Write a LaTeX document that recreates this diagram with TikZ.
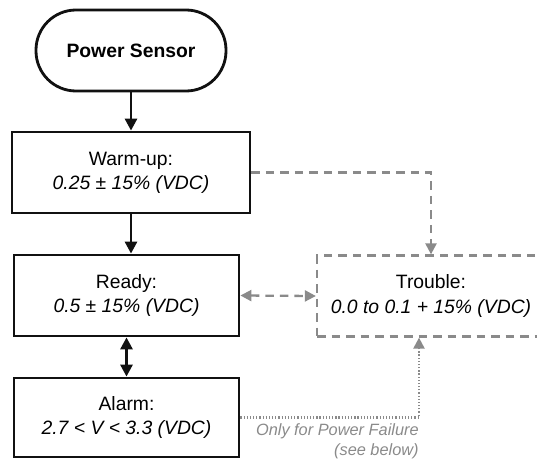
\documentclass[tikz,border=0pt]{standalone}
\usepackage{fontspec}
\setmainfont{Liberation Sans}
\usetikzlibrary{arrows.meta,positioning,calc}
\definecolor{dark}{HTML}{111111}
\definecolor{midgray}{HTML}{8A8A8A}
\tikzset{
  box/.style={draw=dark, line width=1.6pt, align=center, minimum height=1.62cm, inner sep=1mm, font=\fontsize{11}{13.7}\selectfont},
  startbox/.style={box, rounded corners=8mm, minimum width=3.8cm, font=\fontsize{11}{13.7}\selectfont\bfseries},
  statebox/.style={box, minimum width=4.5cm},
  troublebox/.style={box, draw=midgray, line width=1.3pt, dash pattern=on 1.7mm off 1.2mm, minimum width=4.56cm},
  arrow/.style={-{Triangle[length=2.4mm,width=2.4mm]}, line width=1.6pt, draw=dark},
  dasharrow/.style={-{Triangle[length=2.2mm,width=2.2mm]}, line width=1.3pt, draw=midgray, dash pattern=on 1.7mm off 1.2mm},
  dotarrow/.style={-{Triangle[length=2.2mm,width=2.2mm]}, line width=1.3pt, draw=midgray, dash pattern=on 0.7pt off 1.1pt},
  note/.style={text=midgray, align=right, inner sep=0pt, font=\fontsize{9.3}{11.3}\selectfont\itshape}
}
\begin{document}
\begin{tikzpicture}
  \useasboundingbox (0,0) rectangle (10.74,-9.18);
  \clip (0,0) rectangle (10.74,-9.18);
  \node[startbox] (sensor) at (2.62,-1.01) {Power Sensor};
  \node[statebox, minimum width=4.76cm] (warmup) at (2.62,-3.45) {Warm-up:\\\textit{0.25 ± 15\% (VDC)}};
  \node[statebox] (ready) at (2.53,-5.91) {Ready:\\\textit{0.5 ± 15\% (VDC)}};
  \node[statebox, minimum height=1.58cm] (alarm) at (2.53,-8.35) {Alarm:\\\textit{2.7 < V < 3.3 (VDC)}};
  \node[troublebox] (trouble) at (8.62,-5.92) {Trouble:\\\textit{0.0 to 0.1 + 15\% (VDC)}};
  \coordinate (failin) at ([xshift=-0.24cm]trouble.south);
  \draw[arrow] (sensor) -- (warmup);
  \draw[arrow] (warmup.south) -- (warmup.south |- ready.north);
  \draw[arrow, {Triangle[length=2.4mm,width=2.4mm]}-{Triangle[length=2.4mm,width=2.4mm]}] (ready) -- (alarm);
  \draw[dasharrow] (warmup.east) -| (trouble.north);
  \draw[dasharrow, {Triangle[length=2.2mm,width=2.2mm]}-{Triangle[length=2.2mm,width=2.2mm]}] (ready.east) -- (trouble.west);
  \draw[dotarrow] (alarm.east) -| (failin);
  \node[note, anchor=north east] (failnote) at ([yshift=-0.12cm]failin |- alarm.east) {Only for Power Failure\\(see below)};
\end{tikzpicture}
\end{document}
